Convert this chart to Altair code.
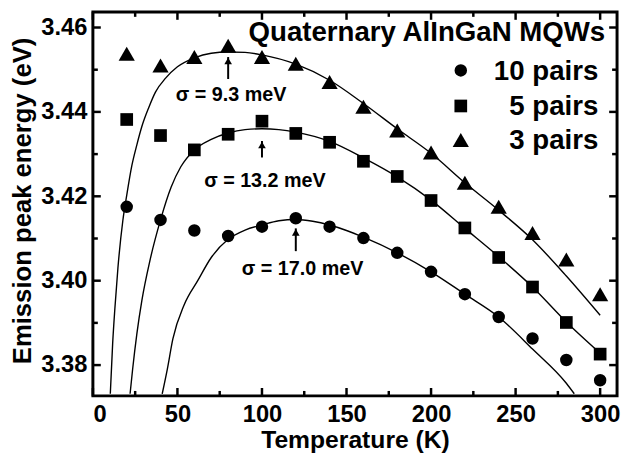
import altair as alt
import pandas as pd

FONT = "Liberation Sans"

temps = [20, 40, 60, 80, 100, 120, 140, 160, 180, 200, 220, 240, 260, 280, 300]
e_10 = [3.4175, 3.4144, 3.4119, 3.4106, 3.4128, 3.4148, 3.4128, 3.4101, 3.4066,
        3.4021, 3.3968, 3.3914, 3.3863, 3.3812, 3.3764]
e_5 = [3.4382, 3.4344, 3.4310, 3.4347, 3.4378, 3.4349, 3.4328, 3.4283, 3.4247,
       3.4190, 3.4125, 3.4055, 3.3985, 3.3901, 3.3826]
e_3 = [3.4538, 3.4510, 3.4530, 3.4557, 3.4530, 3.4514, 3.4471, 3.4412, 3.4356,
       3.4304, 3.4232, 3.4175, 3.4113, 3.4050, 3.3968]

# fitted curves, points
fit10_t = [41, 44, 47.3, 54, 62, 70, 80, 90, 100, 110, 120, 130, 140, 150, 160,
           180, 200, 220, 240, 260, 280, 284.7]
fit10_e = [3.3732, 3.3790, 3.3862, 3.3943, 3.4000, 3.4055, 3.4098, 3.4120, 3.4132,
           3.4142, 3.4145, 3.4141, 3.4132, 3.4119, 3.4103, 3.4066, 3.4021, 3.3968,
           3.3914, 3.3838, 3.3757, 3.3732]
fit5_t = [22, 23.5, 26, 29, 33.7, 40, 46.3, 52, 60, 70, 80, 90, 100, 110, 120,
          140, 160, 180, 200, 220, 240, 260, 280, 300]
fit5_e = [3.3732, 3.3790, 3.3874, 3.3954, 3.4047, 3.4144, 3.4222, 3.4270, 3.4310,
          3.4335, 3.4350, 3.4358, 3.4360, 3.4358, 3.4352, 3.4330, 3.4291, 3.4246,
          3.4191, 3.4124, 3.4057, 3.3985, 3.3902, 3.3828]
fit3_t = [10.3, 11.7, 13, 14.8, 17.7, 20, 23, 26, 29, 33, 37, 43, 50, 60, 70, 80,
          90, 100, 120, 140, 160, 180, 200, 220, 240, 260, 280, 300]
fit3_e = [3.3732, 3.3852, 3.3934, 3.4030, 3.4142, 3.4202, 3.4272, 3.4322, 3.4366,
          3.4410, 3.4447, 3.4480, 3.4507, 3.4528, 3.4539, 3.4542, 3.4541, 3.4535,
          3.4513, 3.4475, 3.4420, 3.4360, 3.4302, 3.4232, 3.4167, 3.4097, 3.4011,
          3.3918]

series = ["10 pairs", "5 pairs", "3 pairs"]
shapes = ["circle", "square", "triangle-up"]
sizes = [160, 165, 270]

# sigma annotations
sig_text = ["\u03c3 = 9.3 meV", "\u03c3 = 13.2 meV", "\u03c3 = 17.0 meV"]
sig_tx = [49.0, 65.8, 88.1]
sig_ty = [3.4440, 3.4237, 3.4027]
arrow_t = [80, 100, 120]
arrow_tail = [3.4478, 3.4292, 3.4070]
arrow_tip = [3.4530, 3.4331, 3.4124]

x_major = [0, 50, 100, 150, 200, 250, 300]
x_minor = [25, 75, 125, 175, 225, 275]
y_major = [3.38, 3.40, 3.42, 3.44, 3.46]
y_minor = [3.39, 3.41, 3.43, 3.45]

X_DOMAIN = [0, 310]
Y_DOMAIN = [3.3727, 3.4637]
W, H = 531, 389

# ---- tables ----
pts = pd.DataFrame({
    "T": temps * 3,
    "E": e_10 + e_5 + e_3,
    "series": [series[0]] * len(temps) + [series[1]] * len(temps) + [series[2]] * len(temps),
})
fits = pd.concat([
    pd.DataFrame({"T": fit10_t, "E": fit10_e, "series": series[0]}),
    pd.DataFrame({"T": fit5_t, "E": fit5_e, "series": series[1]}),
    pd.DataFrame({"T": fit3_t, "E": fit3_e, "series": series[2]}),
])
sig = pd.DataFrame({"T": sig_tx, "E": sig_ty, "label": sig_text})
arr = pd.DataFrame({"T": arrow_t, "E": arrow_tail, "E2": arrow_tip})

xs = alt.Scale(domain=X_DOMAIN, nice=False, zero=False)
ys = alt.Scale(domain=Y_DOMAIN, nice=False, zero=False)

x_axis = alt.Axis(values=x_major, format="d", title="Temperature (K)", ticks=False,
                  domain=False, grid=False, labelFont=FONT, labelFontSize=24,
                  labelFontWeight="bold", labelPadding=7, labelColor="black",
                  titleFont=FONT, titleFontSize=25, titleFontWeight="bold",
                  titleColor="black", titleX=W / 2, titleY=52,
                  titleBaseline="alphabetic", titleAlign="center")
y_axis = alt.Axis(values=y_major, format=".2f", title="Emission peak energy (eV)",
                  ticks=False, domain=False, grid=False, labelFont=FONT,
                  labelFontSize=24, labelFontWeight="bold", labelPadding=6,
                  labelColor="black", titleFont=FONT, titleFontSize=26,
                  titleFontWeight="bold", titleColor="black", titleX=-63,
                  titleY=191, titleAngle=270, titleBaseline="alphabetic",
                  titleAlign="center")


def X(field="T"):
    return alt.X(f"{field}:Q", scale=xs, axis=x_axis)


def Y(field="E"):
    return alt.Y(f"{field}:Q", scale=ys, axis=y_axis)


curves = alt.Chart(fits).mark_line(color="black", strokeWidth=1.4,
                                   interpolate="monotone", clip=True).encode(
    x=X(), y=Y(), detail="series:N",
)

marks = []
for s, sh, sz in zip(series, shapes, sizes):
    marks.append(
        alt.Chart(pts[pts["series"] == s]).mark_point(
            shape=sh, size=sz, filled=True, color="black", opacity=1, clip=True
        ).encode(x=X(), y=Y())
    )

sig_layer = alt.Chart(sig).mark_text(
    font=FONT, fontSize=20, fontWeight="bold", align="left", baseline="middle",
    color="black"
).encode(x=X(), y=Y(), text="label:N")

arrow_shaft = alt.Chart(arr).mark_rule(color="black", strokeWidth=2).encode(
    x=X(), y=Y(), y2="E2:Q")
arrow_head = alt.Chart(arr).mark_point(
    shape="triangle-up", size=60, filled=True, color="black", opacity=1, yOffset=4
).encode(x=X(), y=Y("E2"))


# inward ticks on all four sides
def xticks(vals, length):
    d = pd.DataFrame({"T": vals})
    b = alt.Chart(d).mark_rule(color="black", strokeWidth=2.5).encode(
        x=X(), y=alt.value(H), y2=alt.value(H - length))
    t = alt.Chart(d).mark_rule(color="black", strokeWidth=2.5).encode(
        x=X(), y=alt.value(0), y2=alt.value(length))
    return [b, t]


def yticks(vals, length):
    d = pd.DataFrame({"E": vals})
    l = alt.Chart(d).mark_rule(color="black", strokeWidth=2.5).encode(
        y=Y(), x=alt.value(0), x2=alt.value(length))
    r = alt.Chart(d).mark_rule(color="black", strokeWidth=2.5).encode(
        y=Y(), x=alt.value(W), x2=alt.value(W - length))
    return [l, r]


tick_layers = xticks(x_major, 8) + xticks(x_minor, 5) + yticks(y_major, 8) + yticks(y_minor, 5)

# legend (drawn inside the plot, top right)
title_layer = alt.Chart(pd.DataFrame({"t": ["Quaternary AlInGaN MQWs"]})).mark_text(
    font=FONT, fontSize=28, fontWeight="bold", align="right", baseline="alphabetic",
    color="black"
).encode(x=alt.value(519), y=alt.value(29.5), text="t:N")

leg_layers = [title_layer]
leg_sym_y = [59.3, 95.3, 129.8]
leg_lab_y = [68.7, 104.3, 139.3]
for i, (s, sh, sz) in enumerate(zip(series, shapes, sizes)):
    one = pd.DataFrame({"label": [s]})
    leg_layers.append(alt.Chart(one).mark_point(
        shape=sh, size=sz, filled=True, color="black", opacity=1
    ).encode(x=alt.value(372.7), y=alt.value(leg_sym_y[i])))
    leg_layers.append(alt.Chart(one).mark_text(
        font=FONT, fontSize=28, fontWeight="bold", align="right",
        baseline="alphabetic", color="black"
    ).encode(x=alt.value(512), y=alt.value(leg_lab_y[i]), text="label:N"))

chart = alt.layer(
    curves, *marks, sig_layer, arrow_shaft, arrow_head, *tick_layers, *leg_layers
).properties(
    width=W, height=H,
    autosize=alt.AutoSizeParams(type="none"),
    padding={"left": 86, "top": 1, "right": 4, "bottom": 62},
    background="white",
).configure_view(stroke="black", strokeWidth=3)

chart.save("out.html", embed_options={"renderer": "svg", "actions": False})
